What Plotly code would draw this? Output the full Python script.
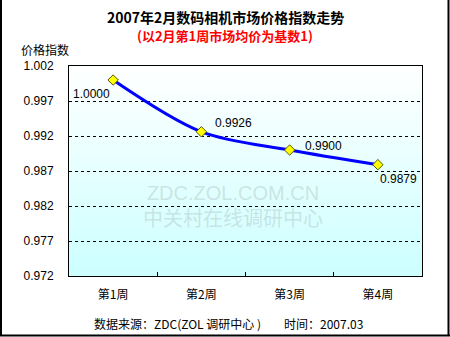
import plotly.graph_objects as go

# Weekly digital-camera price index, Feb 2007 (week 1 average = 1)
weeks = ["第1周", "第2周", "第3周", "第4周"]
index_values = [1.0000, 0.9926, 0.9900, 0.9879]
y_ticks = [0.972, 0.977, 0.982, 0.987, 0.992, 0.997, 1.002]

W, H = 450, 337
ML, MR, MT, MB = 69, 28, 66, 61
PW, PH = W - ML - MR, H - MT - MB

NUM_FONT = "Arial, Liberation Sans, Noto Sans CJK SC, sans-serif"
CJK_FONT = "Noto Sans CJK SC, Arial, sans-serif"


def px_x(px):
    return (px - ML) / PW


def px_y(py):
    return (H - MB - py) / PH


fig = go.Figure()

fig.add_trace(go.Scatter(
    x=weeks, y=index_values,
    mode="lines+markers",
    line=dict(color="#0000ff", width=3, shape="spline", smoothing=0.9),
    marker=dict(symbol="diamond", size=8, color="#ffff00",
                line=dict(color="#555500", width=1)),
    hoverinfo="skip",
    showlegend=False,
))

# Vertical white-to-cyan gradient behind the plot area
bands = 42
shapes = []
for i in range(bands):
    t = (i + 0.5) / bands  # 0 at bottom, 1 at top
    r = round(204 + (255 - 204) * t)
    shapes.append(dict(
        type="rect", xref="x domain", yref="y domain",
        x0=0, x1=1, y0=i / bands, y1=(i + 1) / bands,
        fillcolor=f"rgb({r},255,255)", line=dict(width=0),
        layer="below",
    ))

# Outer frame (left, right, bottom)
for x0, y0, x1, y1 in [(1, 0, 1, 336), (448.5, 0, 448.5, 336), (0, 335.5, 450, 335.5)]:
    shapes.append(dict(
        type="line", xref="paper", yref="paper",
        x0=px_x(x0), x1=px_x(x1), y0=px_y(y0), y1=px_y(y1),
        line=dict(color="#000000", width=2),
    ))

annotations = []

# Point value labels
label_offsets = [  # (xanchor, xshift, yshift)
    ("right", -1, -14),
    ("left", 12, 9),
    ("left", 13, 4),
    ("left", 0, -14),
]
for wk, v, (xa, xs, ys) in zip(weeks, index_values, label_offsets):
    annotations.append(dict(
        x=wk, y=v, xref="x", yref="y", text=f"{v:.4f}",
        showarrow=False, xanchor=xa, yanchor="middle",
        xshift=xs, yshift=ys,
        font=dict(family=NUM_FONT, size=12, color="#000000"),
    ))


def note(px, py, text, size, color="#000000", family=CJK_FONT, xanchor="center"):
    return dict(x=px_x(px), y=px_y(py), xref="paper", yref="paper",
                text=text, showarrow=False, xanchor=xanchor, yanchor="middle",
                font=dict(family=family, size=size, color=color))


# Watermark (two lines in one block)
annotations.append(note(233, 206, "ZDC.ZOL.COM.CN<br>中关村在线调研中心", 20,
                        color="rgba(150,160,160,0.30)", family=NUM_FONT))

# Titles and notes
annotations += [
    note(225, 17, "<b>2007年2月数码相机市场价格指数走势</b>", 14),
    note(225, 35.5, "<b>(以2月第1周市场均价为基数1)</b>", 13, color="#ff0000"),
    note(44.5, 49, "价格指数", 12),
    note(92, 323, "数据来源：ZDC(ZOL 调研中心 )", 12, xanchor="left"),
    note(282, 323, "时间：2007.03", 12, xanchor="left"),
]

fig.update_layout(
    width=W, height=H, autosize=False,
    margin=dict(l=ML, r=MR, t=MT, b=MB, pad=0),
    paper_bgcolor="#ffffff",
    plot_bgcolor="rgba(0,0,0,0)",
    shapes=shapes,
    annotations=annotations,
    showlegend=False,
)

fig.update_xaxes(
    type="category", range=[-0.5, 3.5],
    showline=True, linecolor="#000000", linewidth=1, mirror=True,
    showgrid=False, zeroline=False,
    tickson="boundaries", ticks="inside", ticklen=4, tickcolor="#000000",
    ticklabelstandoff=8,
    tickfont=dict(family=CJK_FONT, size=12, color="#000000"),
)

fig.update_yaxes(
    range=[0.972, 1.002], tickvals=y_ticks, tickformat=".3f",
    showline=True, linecolor="#000000", linewidth=1, mirror=True,
    showgrid=True, gridcolor="#000000", gridwidth=1, griddash="3px,3px",
    zeroline=False, ticks="", ticklabelstandoff=12,
    tickfont=dict(family=NUM_FONT, size=12, color="#000000"),
)

fig.write_html("out.html")
